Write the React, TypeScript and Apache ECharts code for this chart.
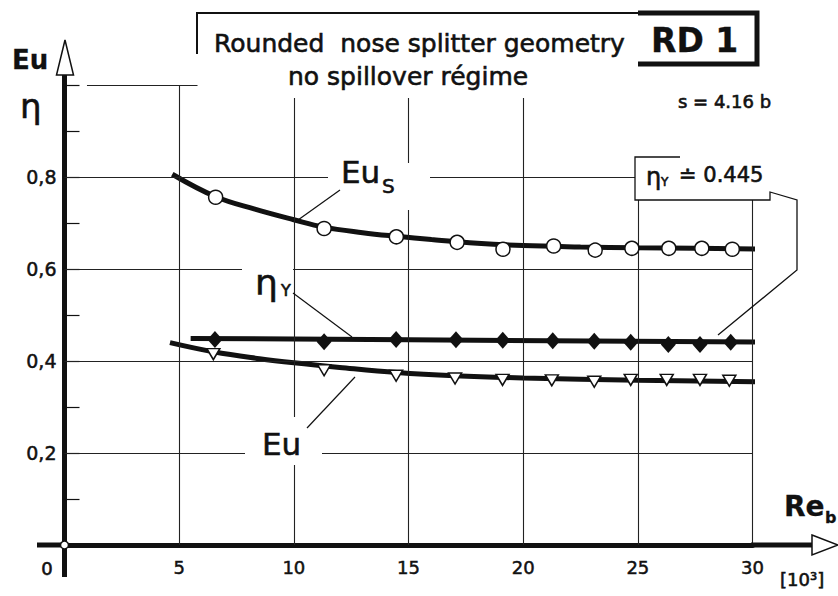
import { useEffect, useRef } from 'react';
import * as echarts from 'echarts';

const FONT = '"DejaVu Sans", sans-serif';
const INK = '#111';

// Re_b [10^3] positions and values
const euSX = [6.59, 11.32, 14.47, 17.12, 19.12, 21.33, 23.14, 24.74, 26.35, 27.79, 29.12];
const euSY = [0.756, 0.688, 0.670, 0.658, 0.643, 0.650, 0.641, 0.645, 0.645, 0.645, 0.643];
const etaX = [6.56, 11.32, 14.46, 17.07, 19.11, 21.29, 23.1, 24.69, 26.33, 27.71, 29.05];
const etaY = [0.447, 0.442, 0.447, 0.446, 0.445, 0.444, 0.443, 0.441, 0.436, 0.436, 0.441];
const euX = [6.49, 11.32, 14.46, 17.03, 19.1, 21.25, 23.1, 24.69, 26.26, 27.71, 28.99];
const euY = [0.415, 0.380, 0.368, 0.362, 0.359, 0.358, 0.355, 0.359, 0.359, 0.359, 0.357];

// fitted curves drawn through the points
const euSCurveX = [4.7, 6.6, 8.3, 10, 11.3, 13, 14.5, 16, 18, 20, 22.5, 25, 27.5, 30.4];
const euSCurveY = [0.806, 0.757, 0.730, 0.707, 0.691, 0.679, 0.671, 0.664, 0.656, 0.651, 0.648, 0.646, 0.645, 0.643];
const etaCurveX = [5.5, 15, 30.4];
const etaCurveY = [0.449, 0.446, 0.441];
const euCurveX = [4.6, 6.5, 8.5, 10, 12, 14.5, 17, 20, 25, 30.4];
const euCurveY = [0.440, 0.420, 0.405, 0.396, 0.386, 0.375, 0.368, 0.363, 0.358, 0.355];

// grid lines: vertical at x from 0 up to top; horizontal at y from x0 to x1
const gridX = [5, 10, 15, 20, 25, 30];
const gridXTop = [1.0, 0.972, 0.972, 0.972, 0.75, 0.75];
const gridY = [0.2, 0.4, 0.6, 0.8, 1.0];
const gridYFrom = [0, 0, 0, 0, 0.98];
const gridYTo = [30, 30, 30, 30, 5.8];

const zip = (xs: number[], ys: number[]) => xs.map((x, i) => [x, ys[i]]);

export default function App() {
  const ref = useRef<HTMLDivElement>(null);
  useEffect(() => {
    const chart = echarts.init(ref.current!, null, { renderer: 'svg' });
    const L = 64.5, T = 85, W = 688, H = 460;
    const gridLineData: any[] = [
      ...gridX.map((x, i) => [{ coord: [x, 0] }, { coord: [x, gridXTop[i]] }]),
      ...gridY.map((y, i) => [{ coord: [gridYFrom[i], y] }, { coord: [gridYTo[i], y] }]),
    ];
    const txt = (text: string, x: number, y: number, size: number, extra: any = {}) => ({
      type: 'text', x, y, z: 20,
      style: {
        text, fontSize: size, fontFamily: FONT, fill: INK, stroke: INK, lineWidth: 0.6,
        verticalAlign: 'middle', align: 'left', ...extra,
      },
    });
    const ln = (x1: number, y1: number, x2: number, y2: number, w = 1.2) => ({
      type: 'line', z: 20, shape: { x1, y1, x2, y2 }, style: { stroke: INK, lineWidth: w },
    });
    const wrect = (x: number, y: number, width: number, height: number) => ({
      type: 'rect', z: 15, shape: { x, y, width, height }, style: { fill: '#fff' },
    });
    const option: any = {
      animation: false,
      backgroundColor: '#fff',
      grid: { left: L, top: T, width: W, height: H },
      xAxis: {
        type: 'value', min: 0, max: 30, interval: 5,
        axisLine: { show: true, onZero: false, lineStyle: { color: INK, width: 5 } },
        axisTick: { show: false },
        splitLine: { show: false },
        axisLabel: {
          margin: 13, fontSize: 18, color: INK, fontFamily: FONT,
          textBorderColor: INK, textBorderWidth: 0.5,
          formatter: (v: number) => (v === 0 ? '' : String(v)),
        },
      },
      yAxis: {
        type: 'value', min: 0, max: 1, interval: 0.2,
        axisLine: { show: true, onZero: false, lineStyle: { color: INK, width: 5 } },
        axisTick: { show: true, inside: true, length: 15, lineStyle: { color: INK, width: 1.2 } },
        minorTick: { show: true, splitNumber: 2, length: 15, lineStyle: { color: INK, width: 1.2 } },
        splitLine: { show: false },
        axisLabel: {
          margin: 8, fontSize: 19, color: INK, fontFamily: FONT,
          textBorderColor: INK, textBorderWidth: 0.5,
          formatter: (v: number) => (v === 0 || v >= 1 ? '' : v.toFixed(1).replace('.', ',')),
        },
      },
      series: [
        {
          name: 'grid', type: 'line', data: [], z: 1, silent: true,
          markLine: {
            silent: true, symbol: ['none', 'none'], label: { show: false },
            lineStyle: { color: '#222', width: 1.1, type: 'solid' },
            emphasis: { disabled: true },
            data: gridLineData,
          },
        },
        {
          name: 'Eu_s curve', type: 'line', data: zip(euSCurveX, euSCurveY), smooth: 0.4, showSymbol: false,
          lineStyle: { color: INK, width: 5 }, z: 3, silent: true,
        },
        {
          name: 'eta curve', type: 'line', data: zip(etaCurveX, etaCurveY), showSymbol: false,
          lineStyle: { color: INK, width: 5 }, z: 3, silent: true,
        },
        {
          name: 'Eu curve', type: 'line', data: zip(euCurveX, euCurveY), smooth: 0.4, showSymbol: false,
          lineStyle: { color: INK, width: 5 }, z: 3, silent: true,
        },
        {
          name: 'Eu_s', type: 'scatter', data: zip(euSX, euSY), symbol: 'circle', symbolSize: 14,
          itemStyle: { color: '#fff', borderColor: INK, borderWidth: 1.5, opacity: 1 }, z: 5, silent: true,
        },
        {
          name: 'eta_Y', type: 'scatter', data: zip(etaX, etaY), symbol: 'diamond', symbolSize: [15, 17],
          itemStyle: { color: INK, opacity: 1 }, z: 5, silent: true,
        },
        {
          name: 'Eu', type: 'scatter', data: zip(euX, euY), symbol: 'triangle', symbolRotate: 180, symbolSize: [13, 11],
          itemStyle: { color: '#fff', borderColor: INK, borderWidth: 1.5, opacity: 1 }, z: 5, silent: true,
        },
      ],
      graphic: [
        // axis extensions and arrowheads
        ln(64.5, 545, 64.5, 577, 5),
        ln(64.5, 86, 64.5, 74, 5),
        { type: 'polygon', z: 21, shape: { points: [[65, 40], [56.5, 75], [73.5, 75]] }, style: { fill: '#fff', stroke: INK, lineWidth: 1.5 } },
        ln(37, 545, 65, 545, 5),
        ln(751, 545, 813, 545, 5),
        { type: 'polygon', z: 21, shape: { points: [[812, 535], [838, 545], [812, 555]] }, style: { fill: '#fff', stroke: INK, lineWidth: 1.5 } },
        { type: 'circle', z: 22, shape: { cx: 64.5, cy: 545, r: 4 }, style: { fill: '#fff', stroke: INK, lineWidth: 1.5 } },
        txt('0', 47, 568, 18, { align: 'center' }),
        // axis titles
        txt('Eu', 12, 60, 26, { fontWeight: 'bold', lineWidth: 0.3 }),
        txt('η', 20, 106, 34),
        txt('Re', 784, 506, 28, { fontWeight: 'bold', lineWidth: 0.3 }),
        txt('b', 825, 517, 16, { fontWeight: 'bold', lineWidth: 0.3 }),
        txt('[10³]', 780, 579, 18),
        // title block
        { type: 'polyline', z: 20, shape: { points: [[197, 54], [197, 13], [640, 13]] }, style: { stroke: INK, lineWidth: 2, fill: 'none' } },
        { type: 'polyline', z: 20, shape: { points: [[638, 13], [757, 13], [757, 64], [638, 64]] }, style: { stroke: INK, lineWidth: 5, fill: 'none' } },
        txt('Rounded  nose splitter geometry', 214, 43, 25),
        txt('no spillover régime', 288, 76, 25),
        txt('RD 1', 651, 40, 33, { fontWeight: 'bold', lineWidth: 0.3 }),
        txt('s = 4.16 b', 678, 101, 18),
        // line breaks behind labels
        wrect(328, 163, 102, 47),
        wrect(242, 258, 51, 52),
        wrect(245, 417, 77, 48),
        // labels
        txt('Eu', 341, 172, 31),
        txt('S', 382, 186, 20),
        ln(340, 190, 298, 220),
        txt('η', 255, 282, 36),
        txt('Y', 281, 290, 16),
        ln(293, 293, 352, 337),
        txt('Eu', 262, 444, 31),
        ln(307, 428, 355, 377),
        // eta_Y value box
        wrect(635, 157, 135, 43),
        { type: 'polyline', z: 20, shape: { points: [[680, 157], [635, 157], [635, 200], [770, 200], [770, 192], [797, 200], [797, 270], [718, 335]] }, style: { stroke: INK, lineWidth: 1.3, fill: 'none' } },
        txt('η', 646, 177, 24),
        txt('Y', 661, 182, 12),
        txt('≐ 0.445', 679, 175, 21),
      ],
    };
    chart.setOption(option);
    return () => chart.dispose();
  }, []);
  return <div ref={ref} style={{ position: 'fixed', left: 0, top: 0, width: 838, height: 596 }} />;
}
